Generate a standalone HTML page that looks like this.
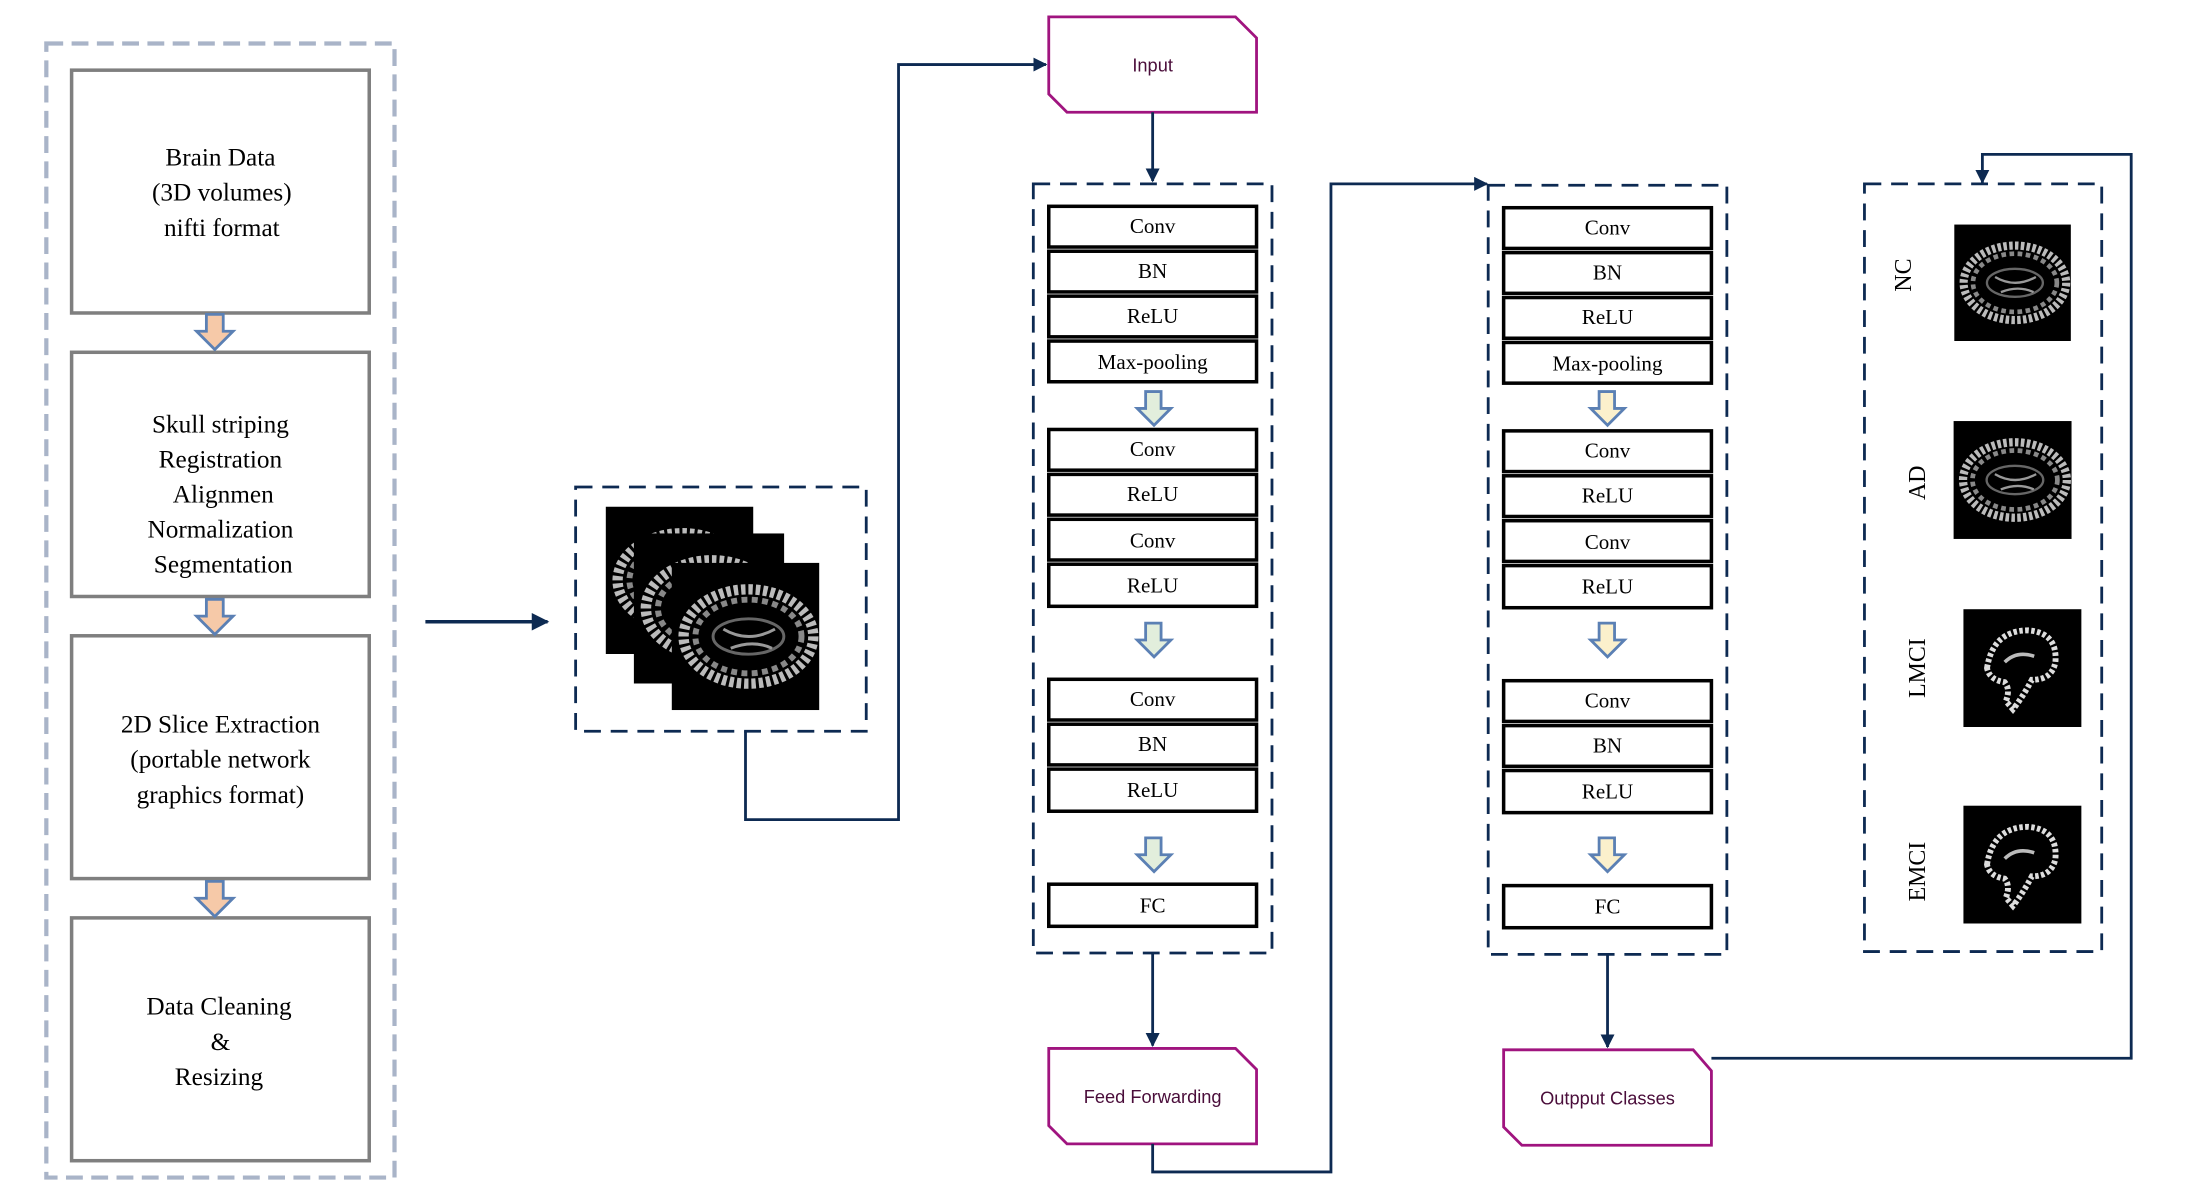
<!DOCTYPE html>
<html><head><meta charset="utf-8"><style>
html,body{margin:0;padding:0;background:#fff;}
svg{display:block;}
.ser{font-family:"Liberation Serif",serif;fill:#000;}
.san{font-family:"Liberation Sans",sans-serif;fill:#4a0d3a;}
</style></head><body>
<svg width="2200" height="1200" viewBox="0 0 1567 855" preserveAspectRatio="none" xmlns="http://www.w3.org/2000/svg">
<defs>
<marker id="ah" viewBox="0 0 10 10" refX="9" refY="5" markerWidth="5" markerHeight="5" orient="auto"><path d="M0,0 L10,5 L0,10 z" fill="#0d2a52"/></marker>
<symbol id="brain" viewBox="0 0 100 100">
<rect width="100" height="100" fill="#000"/>
<ellipse cx="52" cy="50" rx="44" ry="32" fill="none" stroke="#bbb" stroke-width="7" stroke-dasharray="3 2"/>
<ellipse cx="52" cy="50" rx="36" ry="25" fill="none" stroke="#888" stroke-width="4" stroke-dasharray="4 3"/>
<ellipse cx="52" cy="50" rx="24" ry="12" fill="none" stroke="#666" stroke-width="2"/>
<path d="M35,45 Q52,55 70,45 M40,58 Q55,52 68,58" stroke="#999" stroke-width="2" fill="none"/>
</symbol>
<symbol id="sag" viewBox="0 0 100 100">
<rect width="100" height="100" fill="#000"/>
<path d="M20,50 Q25,18 55,18 Q80,20 78,45 Q75,60 58,60 Q50,75 42,85 L36,78 Q40,68 35,62 Q22,60 20,50z" fill="none" stroke="#ddd" stroke-width="5" stroke-dasharray="3 2"/>
<path d="M35,45 Q45,35 60,40" stroke="#bbb" stroke-width="3" fill="none"/>
</symbol>
</defs>

<rect x="33" y="31" width="248" height="808" fill="none" stroke="#a9b4c8" stroke-width="3" stroke-dasharray="12 6"/>
<g fill="#fff" stroke="#7f7f7f" stroke-width="2.5">
<rect x="51" y="50" width="212" height="173"/>
<rect x="51" y="251" width="212" height="174"/>
<rect x="51" y="453" width="212" height="173"/>
<rect x="51" y="654" width="212" height="173"/>
</g>
<g fill="#f6c9a8" stroke="#5b80b4" stroke-width="2">
<path d="M147,224 h12 v12 h7 l-13,13 l-13,-13 h7z"/>
<path d="M147,427 h12 v12 h7 l-13,13 l-13,-13 h7z"/>
<path d="M147,628 h12 v12 h7 l-13,13 l-13,-13 h7z"/>
</g>
<g class="ser" font-size="18" text-anchor="middle">
<text x="157" y="118">Brain Data</text><text x="158" y="143">(3D volumes)</text><text x="158" y="168">nifti format</text>
<text x="157" y="308">Skull striping</text><text x="157" y="333">Registration</text><text x="159" y="358">Alignmen</text><text x="157" y="383">Normalization</text><text x="159" y="408">Segmentation</text>
<text x="157" y="522">2D Slice Extraction</text><text x="157" y="547">(portable network</text><text x="157" y="572">graphics format)</text>
<text x="156" y="723">Data Cleaning</text><text x="157" y="748">&amp;</text><text x="156" y="773">Resizing</text>
</g>

<line x1="303" y1="443" x2="390" y2="443" stroke="#0d2a52" stroke-width="2.5" marker-end="url(#ah)"/>
<rect x="410" y="347" width="207" height="174" fill="none" stroke="#0d2a52" stroke-width="2" stroke-dasharray="12 7"/>
<use href="#brain" x="427" y="361" width="114" height="105"/>
<use href="#brain" x="448" y="380" width="114" height="107"/>
<use href="#brain" x="474" y="401" width="114" height="105"/>
<polyline points="531,521 531,584 640,584 640,46 745,46" fill="none" stroke="#0d2a52" stroke-width="2" marker-end="url(#ah)"/>

<g fill="#fff" stroke="#a0147f" stroke-width="2">
<path d="M747,12 H880 L895,27 V80 H760 L747,67 Z"/>
<path d="M747,747 H880 L895,762 V815 H760 L747,802 Z"/>
<path d="M1071,748 H1206 L1219,763 V816 H1084 L1071,803 Z"/>
</g>
<g class="san" font-size="13" text-anchor="middle">
<text x="821" y="51">Input</text>
<text x="821" y="786">Feed Forwarding</text>
<text x="1145" y="787">Outpput Classes</text>
</g>
<line x1="821" y1="80" x2="821" y2="129" stroke="#0d2a52" stroke-width="2" marker-end="url(#ah)"/>
<line x1="821" y1="679" x2="821" y2="745" stroke="#0d2a52" stroke-width="2" marker-end="url(#ah)"/>
<line x1="1145" y1="680" x2="1145" y2="746" stroke="#0d2a52" stroke-width="2" marker-end="url(#ah)"/>
<polyline points="821,815 821,835 948,835 948,131 1059,131" fill="none" stroke="#0d2a52" stroke-width="2" marker-end="url(#ah)"/>
<polyline points="1219,754 1518,754 1518,110 1412,110 1412,130" fill="none" stroke="#0d2a52" stroke-width="2" marker-end="url(#ah)"/>

<g fill="none" stroke="#0d2a52" stroke-width="2" stroke-dasharray="12 7">
<rect x="736" y="131" width="170" height="548"/>
<rect x="1060" y="132" width="170" height="548"/>
<rect x="1328" y="131" width="169" height="547"/>
</g>
<g fill="#fff" stroke="#000" stroke-width="2.5">
<rect x="747" y="147" width="148" height="29"/><rect x="747" y="179" width="148" height="29"/><rect x="747" y="211" width="148" height="29"/><rect x="747" y="243" width="148" height="29"/>
<rect x="747" y="306" width="148" height="29"/><rect x="747" y="338" width="148" height="29"/><rect x="747" y="370" width="148" height="29"/><rect x="747" y="402" width="148" height="30"/>
<rect x="747" y="484" width="148" height="29"/><rect x="747" y="516" width="148" height="29"/><rect x="747" y="548" width="148" height="30"/>
<rect x="747" y="630" width="148" height="30"/>
<rect x="1071" y="148" width="148" height="29"/><rect x="1071" y="180" width="148" height="29"/><rect x="1071" y="212" width="148" height="29"/><rect x="1071" y="244" width="148" height="29"/>
<rect x="1071" y="307" width="148" height="29"/><rect x="1071" y="339" width="148" height="29"/><rect x="1071" y="371" width="148" height="29"/><rect x="1071" y="403" width="148" height="30"/>
<rect x="1071" y="485" width="148" height="29"/><rect x="1071" y="517" width="148" height="29"/><rect x="1071" y="549" width="148" height="30"/>
<rect x="1071" y="631" width="148" height="30"/>
</g>
<g stroke="#5b80b4" stroke-width="2">
<path fill="#e2eedc" d="M816,279 h11 v12 h7 l-12,12 l-12,-12 h6z"/>
<path fill="#e2eedc" d="M816,444 h11 v12 h7 l-12,12 l-12,-12 h6z"/>
<path fill="#e2eedc" d="M816,597 h11 v12 h7 l-12,12 l-12,-12 h6z"/>
<path fill="#fbf0cc" d="M1139,279 h11 v12 h7 l-12,12 l-12,-12 h6z"/>
<path fill="#fbf0cc" d="M1139,444 h11 v12 h7 l-12,12 l-12,-12 h6z"/>
<path fill="#fbf0cc" d="M1139,597 h11 v12 h7 l-12,12 l-12,-12 h6z"/>
</g>
<g class="ser" font-size="15" text-anchor="middle">
<text x="821" y="166">Conv</text><text x="821" y="198">BN</text><text x="821" y="230">ReLU</text><text x="821" y="263">Max-pooling</text>
<text x="821" y="325">Conv</text><text x="821" y="357">ReLU</text><text x="821" y="390">Conv</text><text x="821" y="422">ReLU</text>
<text x="821" y="503">Conv</text><text x="821" y="535">BN</text><text x="821" y="568">ReLU</text><text x="821" y="650">FC</text>
<text x="1145" y="167">Conv</text><text x="1145" y="199">BN</text><text x="1145" y="231">ReLU</text><text x="1145" y="264">Max-pooling</text>
<text x="1145" y="326">Conv</text><text x="1145" y="358">ReLU</text><text x="1145" y="391">Conv</text><text x="1145" y="423">ReLU</text>
<text x="1145" y="504">Conv</text><text x="1145" y="536">BN</text><text x="1145" y="569">ReLU</text><text x="1145" y="651">FC</text>
</g>

<use href="#brain" x="1391" y="160" width="85" height="83"/>
<use href="#brain" x="1391" y="300" width="85" height="84"/>
<use href="#sag" x="1398" y="434" width="85" height="84"/>
<use href="#sag" x="1398" y="574" width="85" height="84"/>
<g class="ser" font-size="17" text-anchor="middle">
<text transform="translate(1361,196) rotate(-90)">NC</text>
<text transform="translate(1371,344) rotate(-90)">AD</text>
<text transform="translate(1371,476) rotate(-90)">LMCI</text>
<text transform="translate(1371,621) rotate(-90)">EMCI</text>
</g>
</svg>
</body></html>
